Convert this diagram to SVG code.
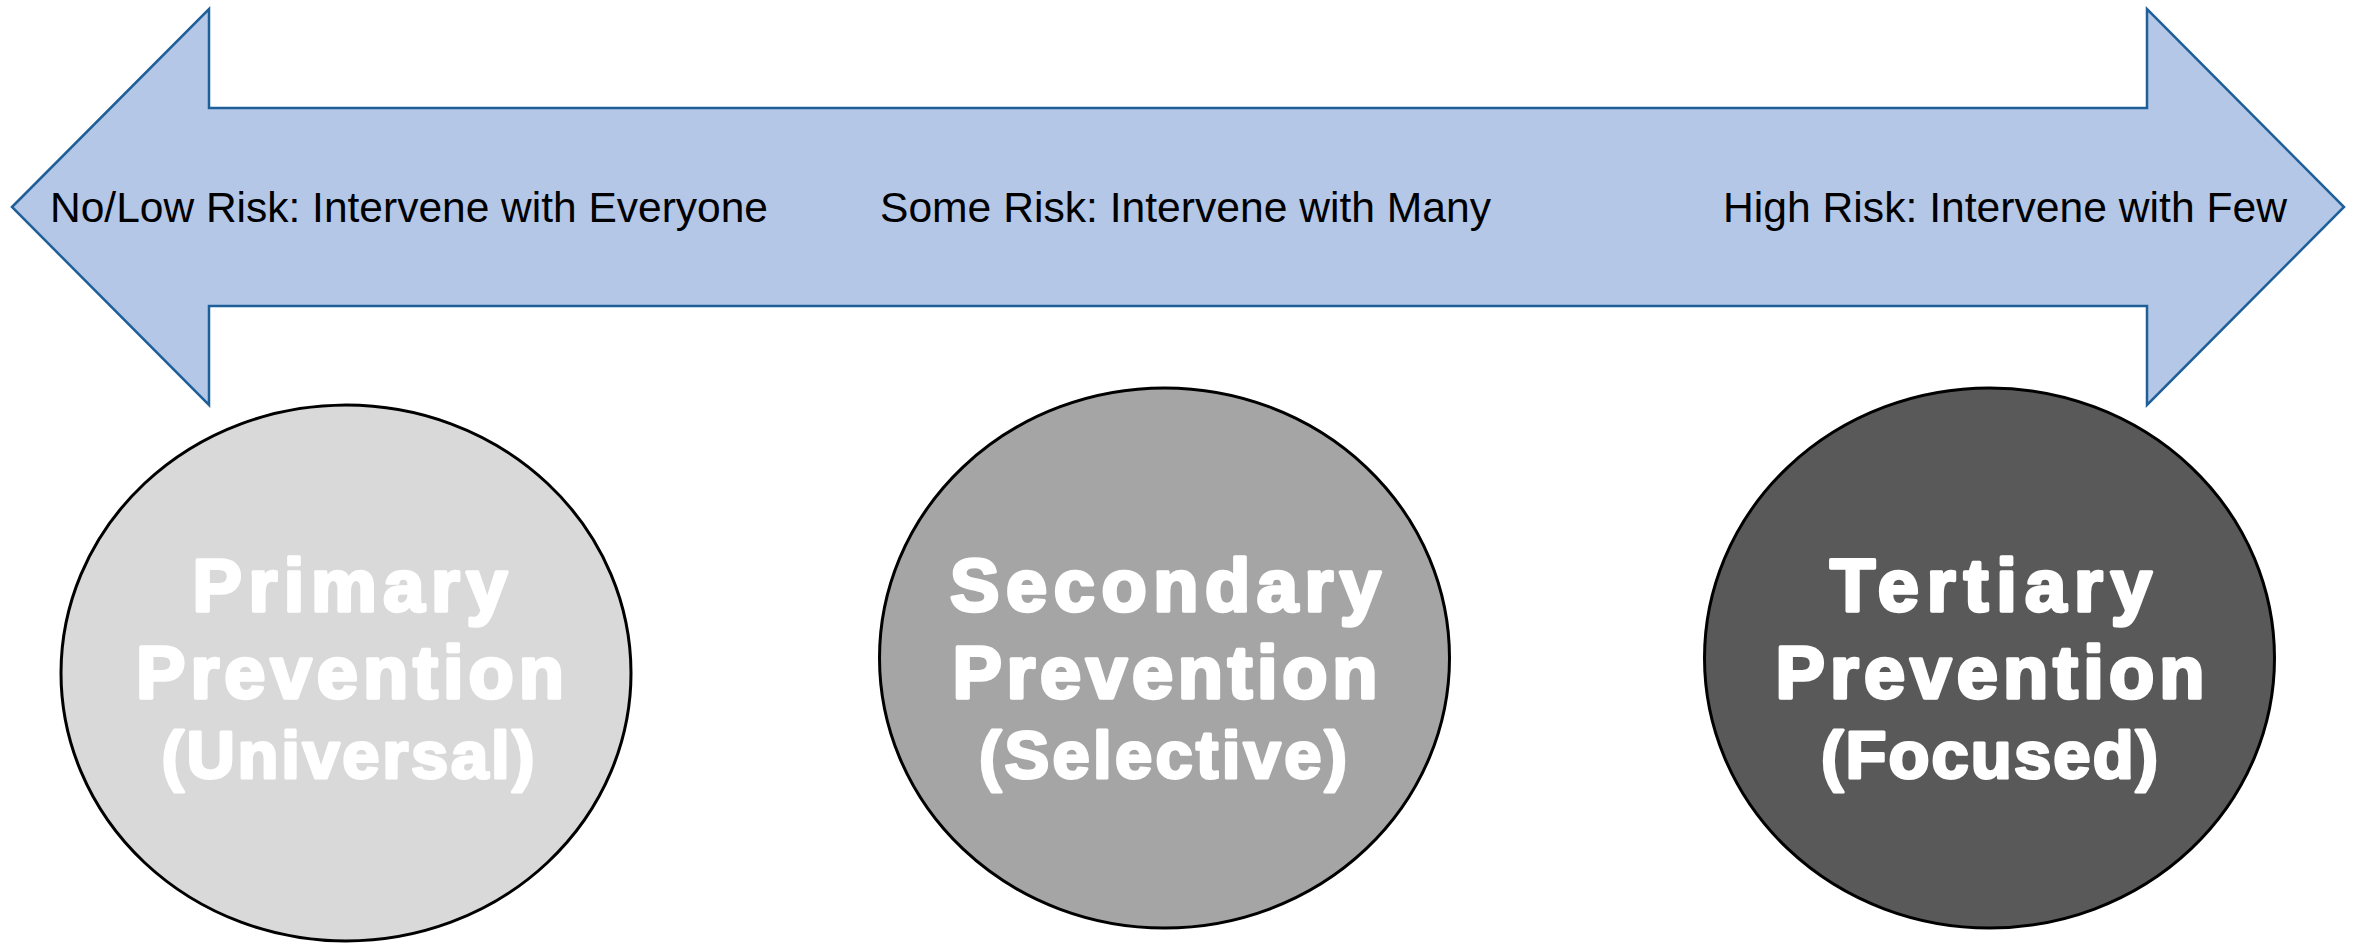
<svg xmlns="http://www.w3.org/2000/svg" width="2356" height="944" viewBox="0 0 2356 944">
<style>
.risk{font-family:"Liberation Sans",Arial,sans-serif;font-size:42.5px;fill:#000}
.lbl{font-family:"Liberation Sans",Arial,sans-serif;font-weight:bold;font-size:74px;fill:#fff;stroke:#fff;stroke-width:3.5;stroke-linejoin:round;text-anchor:middle}
.sub{font-size:67px;stroke-width:3}
.node{stroke:#000;stroke-width:3}
</style>
<rect width="2356" height="944" fill="#fff"/>
<g id="connectors">
<path d="M12,207 L209,9 L209,108 L2147,108 L2147,9 L2344,207 L2147,405 L2147,306 L209,306 L209,405 Z" fill="#B4C7E7" stroke="#1F5F99" stroke-width="2.5" stroke-linejoin="miter"/>
<text class="risk" x="50" y="222" textLength="718" lengthAdjust="spacingAndGlyphs">No/Low Risk: Intervene with Everyone</text>
<text class="risk" x="880" y="222" textLength="611" lengthAdjust="spacingAndGlyphs">Some Risk: Intervene with Many</text>
<text class="risk" x="1723" y="222" textLength="564" lengthAdjust="spacingAndGlyphs">High Risk: Intervene with Few</text>
</g>
<g id="primary">
<ellipse class="node" cx="346" cy="673" rx="285" ry="268" fill="#D9D9D9"/>
<text class="lbl" x="350" y="611" textLength="315" lengthAdjust="spacing">Primary</text>
<text class="lbl" x="350" y="698" textLength="428" lengthAdjust="spacing">Prevention</text>
<text class="lbl sub" x="348" y="778" textLength="373" lengthAdjust="spacing">(Universal)</text>
</g>
<g id="secondary">
<ellipse class="node" cx="1164.5" cy="658" rx="285" ry="270" fill="#A5A5A5"/>
<text class="lbl" x="1165.5" y="611" textLength="431" lengthAdjust="spacing">Secondary</text>
<text class="lbl" x="1165" y="698" textLength="425" lengthAdjust="spacing">Prevention</text>
<text class="lbl sub" x="1163" y="778" textLength="368" lengthAdjust="spacing">(Selective)</text>
</g>
<g id="tertiary">
<ellipse class="node" cx="1989.5" cy="658" rx="285" ry="270" fill="#595959"/>
<text class="lbl" x="1991" y="611" textLength="322" lengthAdjust="spacing">Tertiary</text>
<text class="lbl" x="1990" y="698" textLength="429" lengthAdjust="spacing">Prevention</text>
<text class="lbl sub" x="1989.5" y="778" textLength="337" lengthAdjust="spacing">(Focused)</text>
</g>
</svg>
